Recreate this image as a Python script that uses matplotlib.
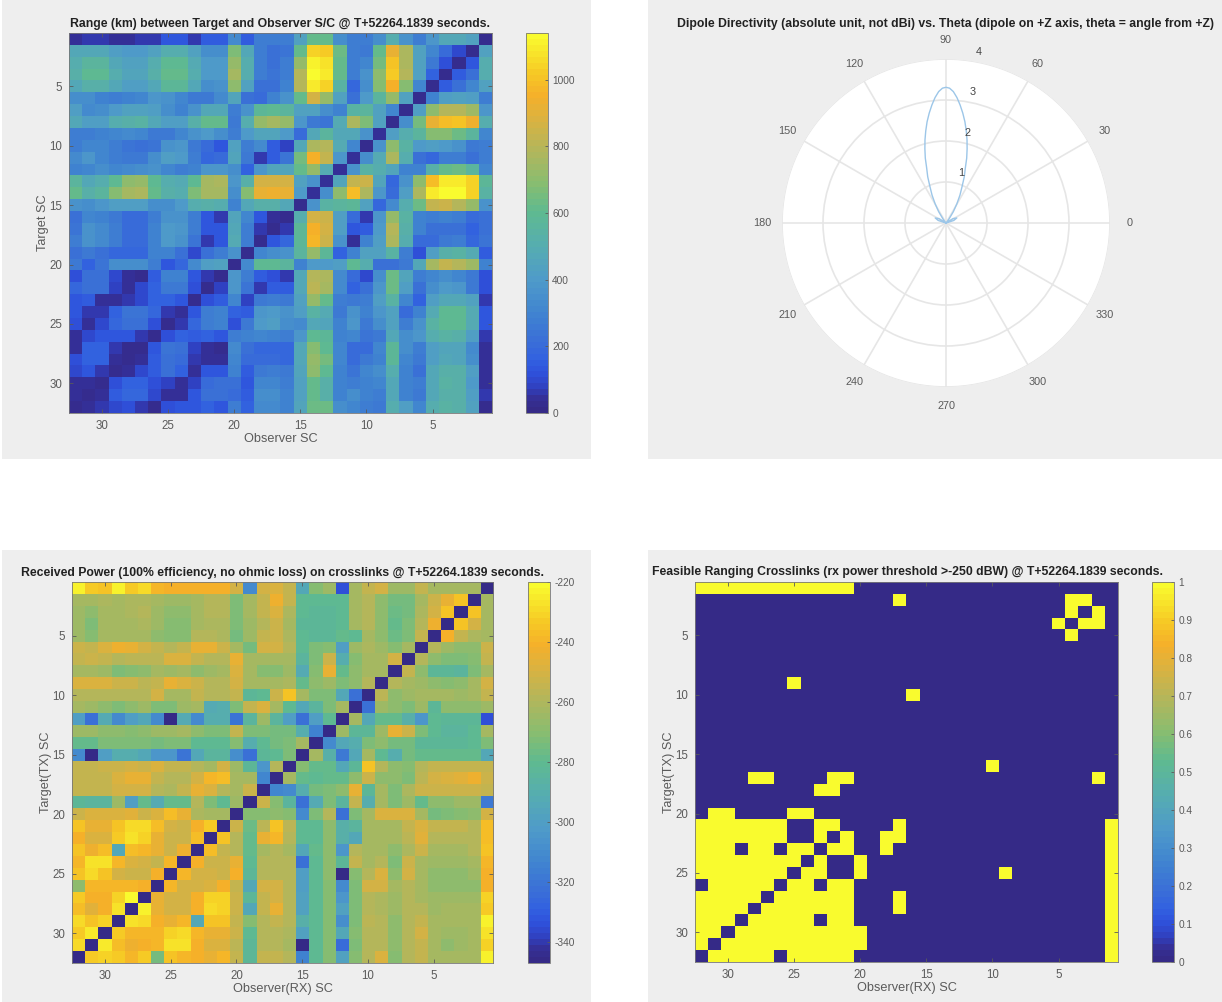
import numpy as np
import matplotlib
matplotlib.use("Agg")
import matplotlib.pyplot as plt
from matplotlib.colors import LinearSegmentedColormap
from matplotlib.patches import Rectangle

plt.rcParams["font.family"] = ["Liberation Sans", "DejaVu Sans"]
plt.rcParams["axes.unicode_minus"] = False

W, H = 1222, 1002
GREY_BG = "#eeeeee"
TICK_COL = "#5a5a5a"

# parula as it looks in the screenshot (washed out by the colour profile)
parula = LinearSegmentedColormap.from_list("parula", [
    (0.0, "#352a87"), (0.03, "#352f95"), (0.06, "#3040c0"), (0.10, "#2f52dc"),
    (0.14, "#3262e0"), (0.18, "#3a6dd8"), (0.26, "#4084d0"), (0.35, "#4f9bc9"), (0.44, "#56adb0"),
    (0.53, "#5fba90"), (0.60, "#85bd72"), (0.70, "#b5b65a"), (0.78, "#dcb23f"),
    (0.84, "#f5b02a"), (0.90, "#f6c825"), (1.0, "#f9fb2e")], N=64)

# every row runs SC32 -> SC1, left to right as drawn
range_km = [
    [45,70,60,40,40,55,70,130,130,70,150,160,330,160,270,270,280,430,620,620,340,280,280,340,500,370,280,380,480,480,430,20],
    [470,480,480,420,400,400,440,500,500,440,350,350,660,480,280,220,240,620,1050,1030,640,280,260,620,920,780,430,310,200,100,20,440],
    [510,560,560,470,440,440,500,600,600,490,400,400,720,500,280,220,280,730,1120,1080,620,280,320,650,1000,780,430,260,120,20,130,510],
    [520,590,590,500,460,460,520,620,620,510,400,400,750,500,280,240,280,790,1130,1100,620,280,360,700,1020,800,430,170,20,160,220,500],
    [470,520,520,470,420,420,480,570,570,470,350,370,700,440,220,230,300,790,1090,1040,540,190,350,690,960,680,320,30,150,230,310,440],
    [340,340,300,280,290,320,390,370,310,250,260,330,460,230,210,300,370,620,860,730,430,220,400,560,720,430,30,300,420,430,420,280],
    [420,330,340,400,440,440,420,340,300,360,470,470,270,370,580,600,560,430,440,340,290,550,560,430,320,30,410,700,800,800,740,380],
    [480,420,420,510,530,540,480,420,420,520,620,620,250,500,730,760,720,380,260,240,490,780,660,430,30,350,650,910,990,1000,940,500],
    [270,280,290,320,330,320,250,250,310,370,400,340,270,400,460,450,400,210,480,560,480,480,370,40,420,500,560,690,680,630,560,310],
    [280,320,310,270,240,230,240,370,380,260,210,130,440,280,330,150,80,470,780,800,490,320,30,370,710,550,400,420,400,360,260,270],
    [330,380,310,280,260,260,340,420,400,280,180,200,460,260,60,160,240,650,950,830,390,40,350,490,780,500,220,190,270,270,230,280],
    [300,310,350,320,330,350,360,320,280,290,380,380,340,170,380,460,460,620,720,490,40,370,540,500,460,290,290,530,620,640,560,320],
    [560,470,510,590,710,720,600,500,490,590,760,770,380,520,860,870,860,430,360,50,450,830,840,460,180,370,700,990,1100,1090,1040,570],
    [610,520,560,690,760,780,620,520,500,670,760,760,340,680,920,940,910,400,50,340,700,980,780,380,200,420,780,1090,1140,1130,1050,550],
    [370,340,390,410,410,410,340,340,400,500,520,500,290,470,520,520,470,30,370,540,560,570,440,190,330,500,630,820,840,800,720,370],
    [220,310,300,250,200,200,280,360,360,270,130,70,450,310,130,50,20,500,870,840,420,210,70,390,730,540,300,280,300,280,210,220],
    [240,360,330,270,200,200,290,400,380,280,140,140,480,270,60,20,70,570,950,860,410,140,150,400,790,520,300,220,230,220,170,220],
    [270,360,330,280,200,200,290,400,370,240,70,140,490,270,30,130,180,580,970,840,360,50,300,420,780,500,200,200,260,280,190,240],
    [220,250,220,180,190,190,290,290,220,90,230,280,360,30,310,340,370,560,720,570,170,300,430,440,550,280,120,420,520,540,490,150],
    [260,170,240,340,350,350,280,130,190,330,420,430,20,330,590,590,560,290,400,400,420,590,510,230,230,260,480,760,820,800,740,300],
    [110,220,220,90,50,30,160,290,290,140,60,20,390,270,160,110,70,470,800,770,330,200,100,350,630,450,280,310,350,310,250,120],
    [190,230,220,80,40,90,170,260,260,120,20,80,380,240,70,150,150,480,810,750,330,170,220,380,640,410,230,350,400,380,250,120],
    [130,150,50,40,60,90,170,170,130,20,120,160,320,80,250,280,260,440,720,620,270,260,280,420,540,320,170,420,480,480,430,60],
    [130,60,60,170,240,240,180,60,40,140,270,290,170,160,390,400,360,410,540,490,250,360,300,380,440,210,290,490,590,590,490,130],
    [120,40,90,190,230,230,110,20,70,190,270,290,110,250,400,410,350,330,470,460,290,380,250,350,430,270,370,540,600,590,490,130],
    [50,90,130,130,130,70,20,120,170,150,170,140,270,290,310,300,270,390,590,570,300,310,240,260,480,340,380,510,540,530,420,60],
    [50,170,170,60,30,20,140,240,230,80,50,30,330,220,180,190,180,470,680,600,310,200,210,310,570,340,280,420,450,450,330,50],
    [110,170,170,50,20,40,150,230,200,70,50,50,310,210,200,210,190,480,720,650,310,210,250,300,570,320,250,420,480,450,350,50],
    [90,130,60,20,50,90,160,230,170,50,130,130,300,150,260,270,260,450,700,590,290,240,310,350,510,290,230,470,520,520,420,50],
    [50,40,20,110,170,170,110,80,50,80,210,220,230,130,310,320,280,440,610,530,290,280,300,320,470,290,280,480,540,530,400,40],
    [50,20,50,150,180,180,90,50,50,130,230,230,210,160,340,340,290,430,620,530,290,340,300,280,470,290,260,480,530,520,420,60],
    [20,50,70,100,120,60,30,120,130,140,170,130,280,170,330,330,290,450,640,640,350,310,270,260,510,410,320,500,550,530,440,30],
]

rx_power = [
    [-222,-232,-234,-223,-232,-228,-238,-240,-240,-240,-240,-240,-250,-310,-250,-248,-255,-295,-270,-265,-335,-262,-255,-250,-265,-265,-255,-262,-262,-262,-262,-347],
    [-262,-262,-260,-262,-260,-260,-262,-265,-265,-262,-258,-258,-272,-262,-255,-243,-255,-280,-280,-280,-280,-262,-258,-268,-275,-275,-262,-252,-245,-235,-347,-262],
    [-265,-268,-262,-262,-260,-258,-265,-268,-268,-262,-258,-258,-272,-262,-255,-248,-260,-280,-282,-282,-280,-262,-258,-268,-277,-275,-260,-250,-235,-347,-235,-262],
    [-265,-272,-262,-262,-262,-260,-265,-270,-270,-262,-260,-260,-272,-265,-258,-252,-262,-282,-282,-282,-280,-262,-258,-268,-278,-272,-258,-242,-347,-235,-250,-262],
    [-265,-270,-262,-262,-262,-262,-268,-270,-270,-258,-258,-260,-274,-265,-255,-252,-260,-280,-282,-282,-278,-280,-262,-268,-277,-272,-255,-347,-240,-255,-260,-262],
    [-252,-254,-248,-243,-244,-250,-254,-258,-255,-245,-245,-252,-262,-275,-250,-250,-258,-280,-272,-270,-300,-265,-260,-265,-270,-262,-347,-258,-265,-268,-268,-252],
    [-255,-252,-255,-258,-256,-256,-256,-248,-248,-255,-258,-258,-245,-262,-262,-262,-262,-285,-272,-252,-290,-270,-262,-262,-250,-347,-258,-268,-272,-272,-270,-255],
    [-262,-262,-265,-272,-270,-268,-262,-265,-262,-268,-265,-262,-248,-262,-270,-270,-265,-292,-270,-245,-278,-268,-262,-262,-347,-255,-268,-282,-283,-284,-272,-262],
    [-248,-248,-248,-252,-252,-256,-254,-245,-248,-252,-258,-258,-250,-262,-262,-262,-260,-278,-268,-265,-272,-268,-258,-347,-258,-262,-265,-268,-270,-268,-262,-250],
    [-258,-258,-258,-258,-258,-258,-250,-262,-262,-255,-258,-258,-255,-282,-280,-252,-235,-262,-272,-272,-295,-322,-347,-256,-268,-265,-262,-262,-262,-265,-262,-255],
    [-262,-265,-268,-272,-268,-265,-272,-272,-265,-262,-292,-290,-272,-255,-248,-262,-280,-295,-285,-272,-262,-347,-322,-265,-268,-272,-265,-282,-268,-268,-268,-265],
    [-300,-322,-292,-310,-300,-295,-310,-347,-292,-310,-290,-290,-320,-285,-265,-285,-300,-322,-300,-280,-347,-262,-295,-278,-278,-288,-305,-280,-282,-282,-282,-335],
    [-265,-265,-268,-268,-270,-268,-265,-265,-262,-268,-272,-272,-255,-272,-272,-275,-275,-290,-315,-347,-265,-282,-282,-265,-245,-252,-272,-280,-285,-285,-280,-262],
    [-278,-278,-272,-272,-272,-272,-275,-272,-272,-280,-280,-280,-270,-290,-280,-275,-272,-262,-347,-310,-295,-290,-272,-268,-275,-275,-282,-282,-282,-282,-280,-272],
    [-310,-347,-300,-290,-290,-295,-305,-305,-320,-295,-285,-285,-308,-322,-282,-280,-272,-347,-262,-288,-318,-295,-262,-280,-290,-275,-278,-278,-278,-278,-278,-295],
    [-255,-255,-252,-252,-250,-252,-248,-255,-255,-258,-262,-250,-265,-282,-305,-258,-347,-270,-278,-278,-295,-282,-235,-258,-268,-270,-258,-255,-255,-255,-255,-255],
    [-255,-255,-255,-248,-244,-244,-255,-258,-258,-250,-238,-236,-262,-262,-312,-347,-262,-278,-280,-278,-278,-268,-252,-268,-268,-272,-256,-250,-248,-246,-242,-252],
    [-255,-255,-255,-250,-250,-250,-258,-260,-255,-245,-248,-258,-262,-252,-347,-312,-310,-290,-275,-272,-268,-245,-282,-262,-272,-260,-252,-252,-252,-252,-252,-255],
    [-282,-285,-285,-265,-300,-278,-292,-278,-278,-258,-272,-280,-265,-347,-252,-270,-285,-322,-292,-272,-285,-255,-290,-262,-272,-265,-278,-268,-268,-265,-265,-318],
    [-252,-248,-248,-248,-246,-252,-248,-236,-245,-260,-262,-262,-347,-270,-270,-268,-270,-310,-272,-258,-322,-272,-262,-248,-248,-248,-262,-275,-272,-270,-268,-250],
    [-235,-245,-245,-235,-228,-228,-236,-250,-252,-240,-232,-347,-252,-276,-256,-235,-256,-280,-280,-268,-288,-285,-262,-262,-262,-255,-248,-255,-255,-255,-258,-236],
    [-240,-248,-248,-232,-226,-230,-244,-252,-252,-236,-347,-235,-258,-278,-245,-238,-258,-280,-280,-268,-288,-295,-262,-262,-262,-256,-246,-258,-258,-258,-258,-236],
    [-234,-243,-236,-295,-236,-238,-245,-252,-242,-347,-236,-255,-258,-278,-262,-258,-262,-295,-278,-268,-305,-258,-262,-262,-268,-260,-252,-262,-262,-262,-258,-234],
    [-238,-227,-227,-238,-248,-250,-254,-238,-347,-240,-252,-252,-245,-280,-258,-258,-258,-322,-280,-268,-282,-255,-262,-258,-272,-252,-262,-265,-265,-265,-262,-238],
    [-235,-228,-235,-250,-252,-252,-240,-347,-238,-250,-250,-252,-240,-282,-258,-258,-258,-300,-280,-268,-347,-270,-258,-248,-268,-250,-262,-268,-268,-268,-265,-240],
    [-268,-238,-238,-238,-238,-240,-347,-238,-250,-250,-248,-240,-255,-295,-250,-250,-258,-300,-280,-270,-310,-272,-250,-250,-262,-258,-262,-268,-268,-268,-268,-240],
    [-232,-240,-240,-230,-221,-347,-245,-250,-250,-240,-230,-230,-252,-282,-255,-250,-258,-298,-280,-270,-305,-272,-258,-260,-265,-258,-262,-265,-265,-265,-265,-230],
    [-236,-246,-240,-227,-347,-222,-245,-250,-250,-240,-228,-230,-252,-295,-255,-245,-258,-298,-280,-270,-298,-272,-258,-260,-265,-258,-258,-265,-262,-262,-262,-232],
    [-228,-235,-230,-347,-227,-228,-240,-244,-238,-295,-235,-235,-255,-270,-258,-255,-258,-288,-280,-270,-308,-272,-256,-258,-268,-258,-255,-262,-262,-262,-262,-222],
    [-232,-224,-347,-232,-238,-238,-238,-230,-228,-238,-245,-245,-252,-280,-258,-258,-260,-298,-280,-270,-295,-270,-258,-258,-268,-258,-250,-262,-265,-265,-262,-226],
    [-228,-347,-225,-236,-242,-240,-238,-226,-226,-240,-248,-248,-256,-282,-258,-258,-262,-347,-280,-270,-325,-272,-258,-258,-268,-258,-255,-262,-268,-265,-262,-230],
    [-347,-232,-230,-232,-238,-232,-275,-235,-238,-240,-245,-238,-255,-282,-255,-255,-258,-315,-280,-270,-298,-270,-258,-248,-270,-258,-255,-262,-262,-262,-262,-222],
]

feasible_rows = [
    "11111111 11110000 00000000 00000000",
    "00000000 00000001 00000000 00001100",
    "00000000 00000000 00000000 00001010",
    "00000000 00000000 00000000 00010110",
    "00000000 00000000 00000000 00001000",
    "00000000 00000000 00000000 00000000",
    "00000000 00000000 00000000 00000000",
    "00000000 00000000 00000000 00000000",
    "00000001 00000000 00000000 00000000",
    "00000000 00000000 10000000 00000000",
    "00000000 00000000 00000000 00000000",
    "00000000 00000000 00000000 00000000",
    "00000000 00000000 00000000 00000000",
    "00000000 00000000 00000000 00000000",
    "00000000 00000000 00000000 00000000",
    "00000000 00000000 00000010 00000000",
    "00001100 00110000 00000000 00000010",
    "00000000 01100000 00000000 00000000",
    "00000000 00000000 00000000 00000000",
    "01100001 10000000 00000000 00000000",
    "11111110 01100001 00000000 00000001",
    "11111110 01010011 00000000 00000001",
    "11101101 10110010 00000000 00000001",
    "11111111 01001000 00000000 00000001",
    "11111110 11001000 00000001 00000001",
    "01111101 10110000 00000000 00000001",
    "11111011 11110001 00000000 00000001",
    "11110111 11110001 00000000 00000001",
    "11101111 10110000 00000000 00000001",
    "11011111 11111000 00000000 00000001",
    "10111111 11111000 00000000 00000001",
    "01111101 11110000 00000000 00000001",
]
feasible = [[int(c) for c in r.replace(" ", "")] for r in feasible_rows]

# directivity (upper half, degrees)
dipole_theta = [10, 18, 25, 32, 42, 50, 53, 57.1, 60.5, 63.4, 66.3, 68.4, 70.7, 72.3, 74.1, 75.8, 77.6, 79.4, 81.3,
                83.2, 85, 86.8, 88.5, 90, 91.5, 93.2, 95, 96.8, 98.7, 100.6, 102.4, 104.2, 105.9, 107.7, 109.3,
                111.6, 113.7, 116.6, 119.5, 122.9, 127, 130, 138, 148, 155, 162, 170]
dipole_r = [0, 0.2, 0.29, 0.2, 0, 0, 0.12, 0.33, 0.54, 0.76, 0.98, 1.21, 1.43, 1.66, 1.88, 2.09, 2.3, 2.51, 2.71,
            2.9, 3.07, 3.21, 3.29, 3.31, 3.29, 3.21, 3.07, 2.9, 2.71, 2.51, 2.3, 2.09, 1.88, 1.66, 1.43,
            1.21, 0.98, 0.76, 0.54, 0.33, 0.12, 0, 0, 0.2, 0.29, 0.2, 0]
rticks = [1, 2, 3, 4]
sc_ticks = [5, 10, 15, 20, 25, 30]


def ax_px(left, top, right, bottom, **kw):
    return fig.add_axes([left / W, 1 - bottom / H, (right - left) / W, (bottom - top) / H], **kw)


def heatmap(box, cbox, data, vmin, vmax, title, xlabel, ylabel, cticks, title_x, title_y):
    ax = ax_px(*box)
    im = ax.imshow(np.array(data), cmap=parula, vmin=vmin, vmax=vmax, aspect="auto",
                   interpolation="nearest", extent=[32.5, 0.5, 32.5, 0.5])
    ax.set_xticks(sc_ticks)
    ax.set_yticks(sc_ticks)
    ax.tick_params(direction="in", length=3, width=0.6, color=TICK_COL, labelcolor=TICK_COL,
                   labelsize=8.3, top=True, right=True, pad=5)
    for s in ax.spines.values():
        s.set_color("#777777")
        s.set_linewidth(0.6)
    ax.set_xlabel(xlabel, fontsize=9.2, color=TICK_COL, labelpad=0.7)
    ax.set_ylabel(ylabel, fontsize=9.2, color=TICK_COL, labelpad=0)
    fig.text(title_x / W, 1 - title_y / H, title, fontsize=8.85, fontweight="bold",
             color="#222222", ha="left", va="center")
    cax = ax_px(*cbox)
    cb = fig.colorbar(im, cax=cax)
    cb.set_ticks(cticks, labels=[f"{t:g}" for t in cticks])
    cb.ax.tick_params(direction="in", length=2, width=0.6, color=TICK_COL, labelcolor=TICK_COL,
                      labelsize=7.3, pad=3)
    cb.outline.set_edgecolor("#777777")
    cb.outline.set_linewidth(0.6)
    return ax


fig = plt.figure(figsize=(W / 100, H / 100), dpi=100, facecolor="white")

for left, top, right, bottom in [(2, 0, 591, 459), (648, 0, 1222, 459), (2, 550, 591, 1002), (648, 550, 1222, 1002)]:
    fig.patches.append(Rectangle((left / W, 1 - bottom / H), (right - left) / W, (bottom - top) / H,
                                 transform=fig.transFigure, facecolor=GREY_BG, edgecolor="none", zorder=-5))

heatmap((69, 33, 492, 413), (526, 33, 548, 413), range_km, 0, 1140,
        "Range (km) between Target and Observer S/C @ T+52264.1839 seconds.",
        "Observer SC", "Target SC", [0, 200, 400, 600, 800, 1000], 70, 24)
heatmap((72, 582, 493, 963), (528, 582, 550, 963), rx_power, -347, -220,
        "Received Power (100% efficiency, no ohmic loss) on crosslinks @ T+52264.1839 seconds.",
        "Observer(RX) SC", "Target(TX) SC", [-340, -320, -300, -280, -260, -240, -220], 21, 573)
heatmap((695, 582, 1118, 962), (1152, 582, 1174, 962), feasible, 0, 1,
        "Feasible Ranging Crosslinks (rx power threshold >-250 dBW) @ T+52264.1839 seconds.",
        "Observer(RX) SC", "Target(TX) SC", [i / 10 for i in range(11)], 652, 572)

# polar panel
cx, cy, rad = 946, 223, 164
pax = ax_px(cx - rad, cy - rad, cx + rad, cy + rad, projection="polar")
pax.plot(np.radians(dipole_theta), dipole_r, color="#9cc6e8", lw=1.0)
pax.set_rlim(0, 4)
pax.set_rgrids(rticks, labels=[])
pax.set_thetagrids(np.arange(0, 360, 30), labels=[str(a) for a in range(0, 360, 30)])
pax.tick_params(colors=TICK_COL, labelsize=7.8, pad=3.5)
pax.grid(color="#e6e6e6", lw=1.2)
pax.spines["polar"].set_visible(False)
for r in rticks:
    pax.annotate(str(r), xy=(np.radians(82), r), xytext=(10, 9), textcoords="offset pixels",
                 fontsize=7.8, color="#444444", ha="center", va="center")
fig.text(946 / W, 1 - 24 / H, "Dipole Directivity (absolute unit, not dBi) vs. Theta (dipole on +Z axis, theta = angle from +Z)",
         fontsize=8.85, fontweight="bold", color="#222222", ha="center", va="center")

fig.savefig("out.png", dpi=100)
